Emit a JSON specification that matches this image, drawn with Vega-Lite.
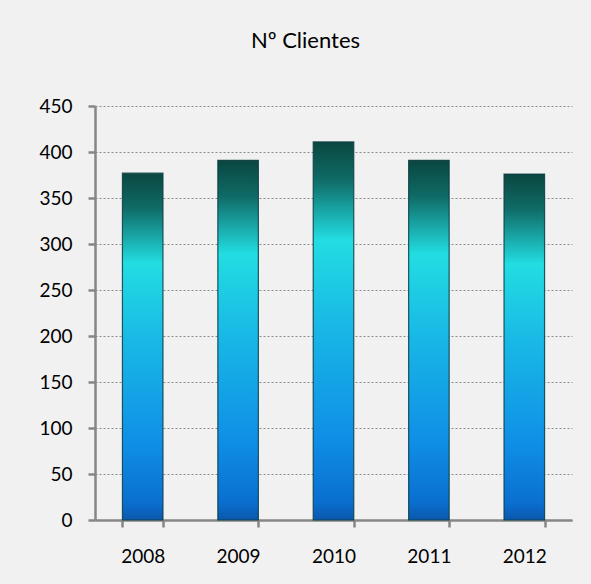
{
  "$schema": "https://vega.github.io/schema/vega-lite/v6.json",
  "autosize": "none",
  "width": 477,
  "height": 414,
  "padding": {"left": 95, "top": 106, "right": 19, "bottom": 64},
  "background": "#f1f1f1",
  "title": {
    "text": "Nº Clientes",
    "font": "Lato",
    "fontSize": 22,
    "fontWeight": "normal",
    "color": "#000000",
    "anchor": "middle",
    "frame": "bounds",
    "baseline": "alphabetic",
    "offset": 27
  },
  "data": {
    "values": [
      {"year": "2008", "clientes": 377},
      {"year": "2009", "clientes": 391},
      {"year": "2010", "clientes": 411},
      {"year": "2011", "clientes": 391},
      {"year": "2012", "clientes": 376}
    ]
  },
  "mark": {
    "type": "bar",
    "stroke": "#0b3d45",
    "strokeWidth": 1.2,
    "strokeOpacity": 0.85,
    "color": {
      "gradient": "linear",
      "x1": 0, "y1": 0, "x2": 0, "y2": 1,
      "stops": [
        {"offset": 0, "color": "#0a4640"},
        {"offset": 0.1, "color": "#0f6b66"},
        {"offset": 0.26, "color": "#22dde2"},
        {"offset": 0.5, "color": "#18b6e6"},
        {"offset": 0.78, "color": "#0f8fe6"},
        {"offset": 0.95, "color": "#0a6fd0"},
        {"offset": 1, "color": "#0a58ac"}
      ]
    }
  },
  "encoding": {
    "x": {
      "field": "year",
      "type": "nominal",
      "title": null,
      "scale": {"paddingInner": 0.575, "paddingOuter": 0.2875},
      "axis": {
        "labelAngle": 0,
        "labelFont": "Lato",
        "labelFontSize": 19,
        "labelColor": "#000000",
        "labelPadding": 20,
        "domainColor": "#868686",
        "domainWidth": 2.5,
        "tickColor": "#868686",
        "tickWidth": 2.5,
        "tickSize": 7,
        "tickBand": "extent",
        "grid": false
      }
    },
    "y": {
      "field": "clientes",
      "type": "quantitative",
      "title": null,
      "scale": {"domain": [0, 450], "nice": false},
      "axis": {
        "values": [0, 50, 100, 150, 200, 250, 300, 350, 400, 450],
        "labelFont": "Lato",
        "labelFontSize": 19,
        "labelColor": "#000000",
        "labelPadding": 16,
        "domainColor": "#868686",
        "domainWidth": 2.5,
        "tickColor": "#868686",
        "tickWidth": 2.5,
        "tickSize": 7,
        "grid": true,
        "gridColor": "#8c8c8c",
        "gridDash": [2, 2],
        "gridWidth": 1
      }
    }
  },
  "config": {
    "view": {"stroke": null}
  }
}
